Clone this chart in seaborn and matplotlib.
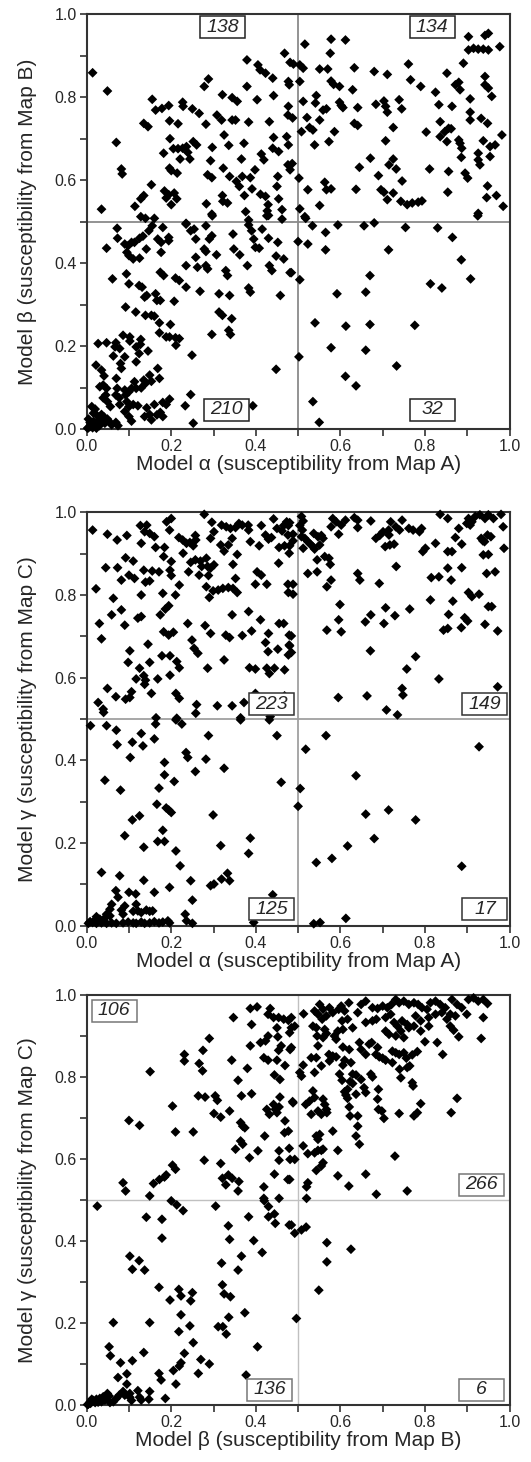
import numpy as np
import pandas as pd
import seaborn as sns
import matplotlib
matplotlib.use("Agg")
import matplotlib.pyplot as plt
from matplotlib.patches import Rectangle
from matplotlib.ticker import MultipleLocator

# ---------------- data ----------------
# Panel 1: Model alpha (x) vs Model beta (y)
ab_ul = [(0.014,0.859),(0.049,0.815),(0.070,0.691),(0.082,0.627),(0.084,0.615),(0.035,0.530),(0.114,0.537),
 (0.128,0.555),(0.135,0.563),(0.128,0.512),(0.139,0.508),(0.153,0.589),(0.135,0.737),(0.145,0.729),(0.155,0.795),
 (0.163,0.769),(0.178,0.773),(0.194,0.780),(0.196,0.743),(0.182,0.665),(0.197,0.700),(0.196,0.629),(0.200,0.623),
 (0.214,0.617),(0.205,0.676),(0.216,0.676),(0.227,0.788),(0.228,0.778),(0.216,0.736),(0.227,0.677),(0.236,0.681),
 (0.221,0.651),(0.184,0.574),(0.194,0.565),(0.188,0.557),(0.207,0.569),(0.213,0.555),(0.200,0.541),(0.250,0.772),
 (0.266,0.761),(0.252,0.693),(0.260,0.685),(0.244,0.651),(0.239,0.667),(0.282,0.735),(0.278,0.826),(0.288,0.844),
 (0.297,0.679),(0.293,0.647),(0.286,0.613),(0.296,0.606),(0.283,0.543),(0.296,0.518),(0.308,0.757),(0.319,0.745),
 (0.321,0.806),(0.325,0.709),(0.336,0.684),(0.323,0.629),(0.338,0.609),(0.321,0.563),(0.322,0.549),(0.333,0.545),
 (0.344,0.799),(0.356,0.790),(0.344,0.745),(0.352,0.745),(0.354,0.597),(0.361,0.585),(0.368,0.609),(0.372,0.689),
 (0.366,0.651),(0.373,0.563),(0.376,0.524),(0.379,0.890),(0.379,0.826),(0.383,0.740),(0.387,0.606),(0.391,0.579),
 (0.398,0.625),(0.403,0.794),(0.405,0.878),(0.410,0.866),(0.423,0.858),(0.411,0.566),(0.423,0.561),(0.429,0.541),
 (0.427,0.526),(0.430,0.515),(0.440,0.846),(0.442,0.804),(0.432,0.741),(0.442,0.703),(0.440,0.677),(0.454,0.669),
 (0.413,0.663),(0.419,0.649),(0.452,0.609),(0.450,0.585),(0.454,0.555),(0.462,0.529),(0.468,0.906),(0.477,0.838),
 (0.479,0.830),(0.477,0.778),(0.476,0.757),(0.481,0.884),(0.473,0.705),(0.477,0.685),(0.476,0.637),(0.481,0.625),
 (0.160,0.508),(0.383,0.504),(0.486,0.640),(0.487,0.750),(0.489,0.880),(0.297,0.514),(0.426,0.514),(0.462,0.506)]
ab_ur = [(0.516,0.928),(0.578,0.940),(0.612,0.938),(0.576,0.906),(0.504,0.878),(0.512,0.870),(0.551,0.868),
 (0.570,0.868),(0.633,0.871),(0.680,0.862),(0.711,0.855),(0.761,0.880),(0.903,0.946),(0.942,0.949),(0.950,0.954),
 (0.903,0.914),(0.915,0.918),(0.926,0.916),(0.938,0.916),(0.950,0.914),(0.977,0.922),(0.891,0.882),(0.852,0.858),
 (0.942,0.850),(0.504,0.838),(0.578,0.839),(0.584,0.831),(0.598,0.826),(0.629,0.818),(0.766,0.842),(0.790,0.826),
 (0.825,0.812),(0.872,0.830),(0.880,0.836),(0.883,0.818),(0.942,0.830),(0.950,0.822),(0.958,0.802),(0.907,0.796),
 (0.543,0.804),(0.541,0.786),(0.512,0.790),(0.598,0.788),(0.602,0.780),(0.606,0.775),(0.641,0.775),(0.684,0.783),
 (0.703,0.791),(0.707,0.778),(0.711,0.764),(0.739,0.794),(0.745,0.772),(0.833,0.782),(0.864,0.778),(0.907,0.764),
 (0.907,0.745),(0.933,0.749),(0.948,0.737),(0.521,0.751),(0.535,0.721),(0.551,0.745),(0.559,0.769),(0.567,0.772),
 (0.508,0.717),(0.527,0.727),(0.539,0.685),(0.573,0.693),(0.586,0.717),(0.633,0.737),(0.641,0.732),(0.725,0.727),
 (0.707,0.695),(0.803,0.716),(0.836,0.741),(0.856,0.725),(0.862,0.724),(0.847,0.717),(0.836,0.705),(0.852,0.693),
 (0.880,0.697),(0.883,0.689),(0.887,0.677),(0.938,0.695),(0.954,0.681),(0.966,0.685),(0.982,0.709),(0.926,0.665),
 (0.926,0.649),(0.954,0.657),(0.886,0.655),(0.671,0.653),(0.645,0.631),(0.715,0.637),(0.725,0.651),(0.732,0.627),
 (0.811,0.627),(0.856,0.621),(0.895,0.617),(0.901,0.605),(0.930,0.637),(0.690,0.611),(0.502,0.605),(0.746,0.598),
 (0.948,0.586),(0.523,0.577),(0.563,0.595),(0.567,0.577),(0.578,0.579),(0.637,0.578),(0.696,0.577),(0.703,0.571),
 (0.711,0.553),(0.725,0.569),(0.854,0.571),(0.946,0.558),(0.969,0.563),(0.985,0.537),(0.743,0.549),(0.758,0.541),
 (0.770,0.545),(0.784,0.547),(0.793,0.550),(0.551,0.539),(0.504,0.531),(0.926,0.520),(0.516,0.512),(0.925,0.514),
 (0.518,0.508)]
ab_lr = [(0.534,0.490),(0.565,0.474),(0.594,0.492),(0.656,0.490),(0.680,0.497),(0.754,0.486),(0.830,0.485),
 (0.500,0.452),(0.523,0.446),(0.565,0.432),(0.714,0.432),(0.865,0.462),(0.886,0.408),(0.504,0.360),(0.670,0.370),
 (0.908,0.362),(0.813,0.350),(0.840,0.340),(0.592,0.326),(0.660,0.330),(0.540,0.256),(0.613,0.248),(0.670,0.252),
 (0.776,0.250),(0.578,0.196),(0.660,0.190),(0.502,0.174),(0.733,0.152),(0.612,0.127),(0.637,0.104),(0.535,0.066),
 (0.550,0.016)]
ab_ll = [(0.072,0.484),(0.073,0.460),(0.047,0.436),(0.090,0.446),(0.098,0.442),(0.106,0.450),(0.113,0.450),
 (0.095,0.426),(0.100,0.418),(0.110,0.410),(0.125,0.412),(0.125,0.460),(0.133,0.465),(0.141,0.434),(0.147,0.478),
 (0.155,0.490),(0.168,0.458),(0.176,0.450),(0.180,0.486),(0.194,0.462),(0.194,0.454),(0.176,0.426),(0.235,0.494),
 (0.246,0.478),(0.254,0.482),(0.258,0.458),(0.282,0.490),(0.290,0.458),(0.296,0.466),(0.278,0.434),(0.282,0.428),
 (0.235,0.394),(0.258,0.414),(0.262,0.390),(0.282,0.394),(0.286,0.386),(0.061,0.362),(0.094,0.374),(0.100,0.350),
 (0.092,0.294),(0.124,0.346),(0.131,0.342),(0.142,0.322),(0.137,0.318),(0.116,0.282),(0.139,0.274),(0.160,0.272),
 (0.163,0.326),(0.166,0.310),(0.174,0.310),(0.174,0.378),(0.182,0.370),(0.210,0.364),(0.219,0.358),(0.235,0.342),
 (0.207,0.308),(0.268,0.332),(0.307,0.420),(0.313,0.326),(0.313,0.282),(0.321,0.274),(0.338,0.322),(0.343,0.266),
 (0.336,0.238),(0.340,0.228),(0.346,0.470),(0.348,0.434),(0.362,0.420),(0.329,0.382),(0.333,0.370),(0.380,0.394),
 (0.383,0.340),(0.387,0.330),(0.296,0.228),(0.383,0.492),(0.390,0.478),(0.395,0.458),(0.408,0.436),(0.415,0.482),
 (0.399,0.438),(0.430,0.460),(0.432,0.394),(0.438,0.382),(0.448,0.417),(0.452,0.450),(0.458,0.322),(0.466,0.410),
 (0.481,0.377),(0.448,0.144),(0.393,0.056),(0.249,0.178),(0.246,0.083),(0.252,0.014),(0.233,0.056),(0.198,0.252),
 (0.188,0.222),(0.196,0.222),(0.210,0.220),(0.219,0.218),(0.211,0.202),(0.172,0.232),(0.172,0.256),(0.153,0.274),
 (0.145,0.188),(0.128,0.216),(0.127,0.204),(0.117,0.198),(0.102,0.222),(0.102,0.212),(0.086,0.226),(0.078,0.194),
 (0.090,0.174),(0.080,0.158),(0.082,0.146),(0.069,0.208),(0.047,0.208),(0.027,0.206),(0.022,0.154),(0.035,0.142),
 (0.041,0.128),(0.063,0.176),(0.067,0.198),(0.124,0.182),(0.117,0.162),(0.149,0.130),(0.153,0.115),(0.168,0.146),
 (0.172,0.122),(0.113,0.114),(0.117,0.098),(0.135,0.118),(0.129,0.099),(0.139,0.110),(0.106,0.098),(0.100,0.090),
 (0.090,0.094),(0.092,0.082),(0.070,0.122),(0.072,0.098),(0.031,0.102),(0.039,0.106),(0.047,0.098),(0.045,0.082),
 (0.039,0.075),(0.049,0.066),(0.056,0.054),(0.069,0.082),(0.077,0.075),(0.078,0.059),(0.095,0.066),(0.100,0.054),
 (0.110,0.059),(0.090,0.042),(0.100,0.030),(0.106,0.019),(0.121,0.056),(0.142,0.051),(0.149,0.035),(0.153,0.022),
 (0.137,0.030),(0.160,0.059),(0.166,0.034),(0.180,0.064),(0.188,0.059),(0.196,0.072),(0.174,0.040),(0.180,0.030),
 (0.012,0.054),(0.020,0.048),(0.016,0.038),(0.025,0.032),(0.035,0.035),(0.031,0.024),(0.041,0.029),(0.049,0.024),
 (0.043,0.014),(0.004,0.024),(0.008,0.016),(0.012,0.010),(0.016,0.018),(0.020,0.008),(0.025,0.014),(0.030,0.008),
 (0.035,0.016),(0.055,0.016),(0.059,0.010),(0.069,0.016),(0.074,0.008),(0.004,0.003),(0.008,0.006),(0.002,0.002),
 (0.014,0.003),(0.023,0.002),(0.235,0.496),(0.484,0.377)]

# Panel 2: Model alpha (x) vs Model gamma (y)
ag_ul = [(0.014,0.957),(0.022,0.815),(0.030,0.731),(0.035,0.694),(0.049,0.947),(0.045,0.866),(0.059,0.752),
 (0.063,0.792),(0.072,0.933),(0.073,0.866),(0.082,0.836),(0.082,0.764),(0.090,0.727),(0.095,0.944),(0.092,0.890),
 (0.100,0.848),(0.110,0.882),(0.113,0.840),(0.102,0.665),(0.098,0.637),(0.121,0.744),(0.129,0.748),(0.127,0.968),
 (0.142,0.969),(0.137,0.953),(0.149,0.949),(0.160,0.941),(0.129,0.925),(0.135,0.860),(0.139,0.831),(0.149,0.834),
 (0.155,0.858),(0.129,0.800),(0.145,0.681),(0.125,0.623),(0.117,0.597),(0.135,0.605),(0.139,0.594),(0.137,0.584),
 (0.149,0.637),(0.153,0.562),(0.171,0.856),(0.168,0.597),(0.163,0.915),(0.180,0.804),(0.178,0.653),(0.184,0.915),
 (0.182,0.893),(0.174,0.752),(0.186,0.766),(0.194,0.774),(0.182,0.711),(0.194,0.703),(0.205,0.710),(0.197,0.653),
 (0.197,0.606),(0.189,0.977),(0.200,0.985),(0.196,0.957),(0.200,0.881),(0.197,0.860),(0.200,0.847),(0.210,0.800),
 (0.213,0.639),(0.219,0.624),(0.211,0.562),(0.219,0.550),(0.219,0.824),(0.218,0.939),(0.227,0.933),(0.236,0.925),
 (0.244,0.927),(0.228,0.901),(0.239,0.731),(0.249,0.691),(0.254,0.671),(0.263,0.659),(0.252,0.919),(0.258,0.933),
 (0.246,0.879),(0.257,0.885),(0.257,0.944),(0.241,0.856),(0.266,0.848),(0.260,0.535),(0.269,0.882),(0.272,0.869),
 (0.278,0.995),(0.283,0.889),(0.286,0.869),(0.293,0.865),(0.301,0.873),(0.283,0.820),(0.288,0.847),(0.296,0.976),
 (0.301,0.953),(0.293,0.937),(0.280,0.726),(0.293,0.707),(0.286,0.623),(0.290,0.794),(0.299,0.810),(0.311,0.812),
 (0.322,0.816),(0.335,0.818),(0.346,0.816),(0.356,0.806),(0.309,0.532),(0.319,0.969),(0.330,0.965),(0.340,0.961),
 (0.352,0.963),(0.360,0.973),(0.368,0.969),(0.317,0.921),(0.325,0.906),(0.335,0.921),(0.344,0.937),(0.325,0.643),
 (0.329,0.703),(0.338,0.697),(0.344,0.752),(0.346,0.874),(0.352,0.840),(0.344,0.532),(0.356,0.898),(0.368,0.702),
 (0.372,0.540),(0.382,0.969),(0.383,0.957),(0.383,0.760),(0.390,0.713),(0.385,0.624),(0.387,0.929),(0.399,0.826),
 (0.403,0.856),(0.413,0.848),(0.399,0.621),(0.408,0.919),(0.411,0.740),(0.413,0.968),(0.423,0.945),(0.430,0.935),
 (0.437,0.939),(0.426,0.826),(0.423,0.685),(0.430,0.707),(0.429,0.663),(0.432,0.610),(0.426,0.623),(0.442,0.984),
 (0.450,0.961),(0.462,0.955),(0.466,0.968),(0.444,0.623),(0.454,0.877),(0.455,0.915),(0.468,0.919),(0.452,0.669),
 (0.455,0.731),(0.466,0.731),(0.468,0.619),(0.473,0.977),(0.477,0.968),(0.476,0.945),(0.479,0.901),(0.476,0.826),
 (0.477,0.806),(0.479,0.703),(0.479,0.679),(0.477,0.655),(0.399,0.562),(0.468,0.556),(0.027,0.540),(0.039,0.524),
 (0.049,0.574),(0.069,0.554),(0.092,0.548),(0.102,0.552),(0.106,0.566),(0.164,0.503),(0.213,0.502),(0.258,0.514),
 (0.364,0.503),(0.434,0.506),(0.480,0.975),(0.488,0.947),(0.488,0.931),(0.480,0.919),(0.488,0.826),(0.488,0.802),
 (0.484,0.701),(0.480,0.677),(0.484,0.661),(0.040,0.516)]
ag_ur = [(0.508,0.990),(0.512,0.979),(0.504,0.968),(0.510,0.957),(0.508,0.941),(0.516,0.937),(0.523,0.929),
 (0.529,0.923),(0.535,0.917),(0.539,0.911),(0.512,0.913),(0.537,0.949),(0.547,0.941),(0.555,0.944),(0.559,0.937),
 (0.551,0.921),(0.563,0.893),(0.573,0.889),(0.576,0.874),(0.545,0.885),(0.523,0.852),(0.545,0.856),(0.578,0.836),
 (0.568,0.820),(0.582,0.985),(0.590,0.977),(0.602,0.969),(0.612,0.981),(0.633,0.987),(0.641,0.981),(0.578,0.965),
 (0.596,0.947),(0.641,0.963),(0.672,0.979),(0.641,0.852),(0.646,0.836),(0.692,0.828),(0.684,0.937),(0.693,0.944),
 (0.701,0.953),(0.714,0.957),(0.715,0.945),(0.719,0.977),(0.731,0.965),(0.740,0.957),(0.746,0.981),(0.706,0.917),
 (0.717,0.921),(0.727,0.923),(0.732,0.869),(0.762,0.961),(0.772,0.957),(0.792,0.961),(0.787,0.953),(0.795,0.905),
 (0.801,0.913),(0.825,0.925),(0.836,0.995),(0.854,0.985),(0.854,0.905),(0.864,0.905),(0.872,0.939),(0.880,0.961),
 (0.887,0.923),(0.903,0.985),(0.911,0.977),(0.919,0.990),(0.930,0.994),(0.942,0.985),(0.950,0.994),(0.962,0.985),
 (0.980,0.995),(0.907,0.969),(0.899,0.973),(0.933,0.937),(0.941,0.929),(0.948,0.945),(0.956,0.941),(0.937,0.931),
 (0.985,0.965),(0.987,0.913),(0.938,0.897),(0.950,0.898),(0.854,0.865),(0.887,0.866),(0.946,0.852),(0.966,0.856),
 (0.815,0.842),(0.833,0.844),(0.862,0.836),(0.903,0.806),(0.911,0.796),(0.928,0.802),(0.813,0.788),(0.866,0.785),
 (0.950,0.772),(0.958,0.772),(0.599,0.777),(0.707,0.769),(0.764,0.766),(0.856,0.753),(0.894,0.745),(0.901,0.737),
 (0.596,0.740),(0.602,0.711),(0.568,0.715),(0.659,0.735),(0.672,0.752),(0.703,0.731),(0.729,0.750),(0.844,0.715),
 (0.854,0.719),(0.886,0.721),(0.942,0.729),(0.972,0.713),(0.671,0.665),(0.778,0.651),(0.757,0.621),(0.833,0.597),
 (0.746,0.574),(0.748,0.558),(0.595,0.552),(0.663,0.556),(0.709,0.522),(0.735,0.510),(0.972,0.578)]
ag_ll = [(0.009,0.484),(0.047,0.484),(0.070,0.473),(0.072,0.438),(0.108,0.444),(0.129,0.465),(0.133,0.435),
 (0.160,0.452),(0.163,0.488),(0.211,0.498),(0.225,0.488),(0.288,0.460),(0.364,0.498),(0.432,0.498),(0.450,0.460),
 (0.235,0.419),(0.239,0.407),(0.282,0.403),(0.257,0.373),(0.325,0.381),(0.103,0.407),(0.043,0.352),(0.080,0.328),
 (0.184,0.395),(0.184,0.365),(0.171,0.333),(0.207,0.349),(0.166,0.294),(0.188,0.285),(0.194,0.280),(0.200,0.274),
 (0.125,0.266),(0.108,0.256),(0.299,0.268),(0.460,0.347),(0.090,0.218),(0.180,0.231),(0.168,0.204),(0.184,0.204),
 (0.135,0.190),(0.211,0.181),(0.221,0.145),(0.317,0.194),(0.387,0.212),(0.383,0.175),(0.035,0.129),(0.078,0.121),
 (0.135,0.110),(0.196,0.093),(0.246,0.109),(0.250,0.062),(0.293,0.097),(0.301,0.101),(0.319,0.113),(0.333,0.127),
 (0.338,0.109),(0.440,0.075),(0.069,0.085),(0.074,0.069),(0.100,0.081),(0.116,0.077),(0.059,0.052),(0.055,0.040),
 (0.090,0.048),(0.082,0.038),(0.086,0.028),(0.117,0.052),(0.110,0.035),(0.121,0.036),(0.129,0.032),(0.141,0.038),
 (0.149,0.035),(0.156,0.036),(0.160,0.081),(0.047,0.028),(0.055,0.024),(0.043,0.019),(0.023,0.022),(0.020,0.014),
 (0.031,0.016),(0.039,0.012),(0.008,0.010),(0.014,0.008),(0.004,0.006),(0.023,0.006),(0.035,0.007),(0.047,0.006),
 (0.059,0.007),(0.070,0.006),(0.086,0.007),(0.098,0.009),(0.110,0.007),(0.117,0.006),(0.129,0.009),(0.137,0.006),
 (0.149,0.007),(0.160,0.010),(0.171,0.007),(0.180,0.009),(0.192,0.012),(0.196,0.007),(0.233,0.028),(0.236,0.012),
 (0.250,0.006),(0.395,0.008)]
ag_lr = [(0.518,0.427),(0.566,0.460),(0.637,0.363),(0.505,0.332),(0.500,0.289),(0.660,0.270),(0.714,0.280),
 (0.778,0.256),(0.680,0.211),(0.617,0.193),(0.543,0.153),(0.580,0.163),(0.887,0.144),(0.928,0.433),(0.537,0.005),
 (0.552,0.008),(0.613,0.018)]

# Panel 3: Model beta (x) vs Model gamma (y)
bg_ul = [(0.086,0.542),(0.092,0.522),(0.100,0.694),(0.125,0.682),(0.149,0.510),(0.150,0.813),(0.158,0.540),
 (0.172,0.550),(0.184,0.556),(0.188,0.561),(0.203,0.729),(0.210,0.666),(0.203,0.585),(0.210,0.575),(0.231,0.855),
 (0.231,0.839),(0.252,0.666),(0.266,0.833),(0.274,0.815),(0.264,0.754),(0.280,0.751),(0.275,0.865),(0.278,0.597),
 (0.290,0.894),(0.304,0.754),(0.309,0.743),(0.301,0.711),(0.317,0.702),(0.317,0.589),(0.321,0.553),(0.329,0.537),
 (0.335,0.561),(0.344,0.553),(0.360,0.545),(0.358,0.522),(0.338,0.717),(0.343,0.841),(0.347,0.945),(0.358,0.792),
 (0.366,0.754),(0.364,0.689),(0.369,0.680),(0.374,0.676),(0.364,0.644),(0.369,0.636),(0.352,0.624),(0.380,0.821),
 (0.387,0.967),(0.403,0.971),(0.390,0.928),(0.387,0.876),(0.390,0.759),(0.385,0.603),(0.405,0.620),(0.411,0.884),
 (0.423,0.888),(0.429,0.900),(0.419,0.847),(0.429,0.841),(0.421,0.656),(0.419,0.532),(0.426,0.721),(0.432,0.709),
 (0.442,0.733),(0.446,0.721),(0.450,0.713),(0.455,0.727),(0.434,0.967),(0.429,0.953),(0.442,0.945),(0.454,0.945),
 (0.466,0.941),(0.477,0.938),(0.444,0.805),(0.450,0.920),(0.452,0.898),(0.454,0.865),(0.460,0.876),(0.450,0.841),
 (0.455,0.620),(0.455,0.597),(0.444,0.563),(0.455,0.504),(0.457,0.794),(0.457,0.751),(0.469,0.693),(0.469,0.828),
 (0.468,0.664),(0.477,0.668),(0.479,0.626),(0.481,0.599),(0.476,0.550),(0.481,0.867),(0.484,0.920),(0.487,0.740),
 (0.419,0.504),(0.484,0.945),(0.492,0.924),(0.480,0.908),(0.484,0.872),(0.488,0.737),(0.492,0.599),(0.480,0.550)]
bg_ur = [(0.513,0.954),(0.551,0.977),(0.539,0.961),(0.547,0.953),(0.559,0.965),(0.567,0.949),(0.574,0.969),
 (0.582,0.957),(0.596,0.965),(0.602,0.973),(0.610,0.961),(0.620,0.981),(0.535,0.924),(0.543,0.920),(0.557,0.941),
 (0.563,0.916),(0.545,0.900),(0.559,0.896),(0.567,0.906),(0.586,0.900),(0.590,0.892),(0.594,0.912),(0.606,0.916),
 (0.629,0.920),(0.604,0.937),(0.617,0.941),(0.641,0.957),(0.649,0.977),(0.660,0.985),(0.676,0.969),(0.688,0.967),
 (0.700,0.973),(0.711,0.969),(0.721,0.977),(0.731,0.989),(0.739,0.981),(0.750,0.985),(0.762,0.977),(0.774,0.981),
 (0.784,0.977),(0.793,0.969),(0.805,0.965),(0.813,0.981),(0.825,0.985),(0.836,0.977),(0.848,0.969),(0.864,0.989),
 (0.876,0.977),(0.887,0.969),(0.903,0.989),(0.915,0.993),(0.926,0.985),(0.938,0.989),(0.948,0.979),(0.660,0.933),
 (0.676,0.937),(0.685,0.941),(0.707,0.945),(0.719,0.953),(0.727,0.933),(0.735,0.924),(0.746,0.937),(0.758,0.928),
 (0.778,0.949),(0.790,0.937),(0.809,0.945),(0.825,0.953),(0.840,0.957),(0.852,0.941),(0.860,0.953),(0.872,0.949),
 (0.899,0.953),(0.938,0.945),(0.707,0.912),(0.715,0.904),(0.731,0.900),(0.743,0.912),(0.750,0.896),(0.762,0.920),
 (0.774,0.924),(0.790,0.912),(0.809,0.924),(0.860,0.924),(0.868,0.914),(0.880,0.898),(0.933,0.894),(0.547,0.876),
 (0.543,0.847),(0.531,0.847),(0.512,0.829),(0.504,0.811),(0.508,0.802),(0.539,0.811),(0.555,0.827),(0.573,0.855),
 (0.574,0.839),(0.582,0.851),(0.590,0.849),(0.606,0.873),(0.621,0.867),(0.606,0.829),(0.610,0.841),(0.625,0.835),
 (0.629,0.807),(0.637,0.805),(0.649,0.794),(0.645,0.884),(0.649,0.867),(0.660,0.855),(0.668,0.880),(0.674,0.884),
 (0.688,0.872),(0.684,0.855),(0.692,0.849),(0.700,0.846),(0.707,0.841),(0.723,0.863),(0.731,0.859),(0.739,0.855),
 (0.750,0.859),(0.756,0.846),(0.764,0.827),(0.770,0.854),(0.782,0.862),(0.800,0.886),(0.829,0.884),(0.842,0.855),
 (0.598,0.807),(0.604,0.792),(0.623,0.789),(0.629,0.784),(0.617,0.770),(0.610,0.764),(0.613,0.756),(0.617,0.748),
 (0.637,0.758),(0.656,0.774),(0.660,0.762),(0.672,0.807),(0.676,0.800),(0.690,0.770),(0.688,0.746),(0.690,0.721),
 (0.698,0.717),(0.703,0.699),(0.723,0.835),(0.740,0.819),(0.743,0.798),(0.758,0.823),(0.770,0.786),(0.772,0.778),
 (0.518,0.733),(0.527,0.741),(0.535,0.766),(0.539,0.750),(0.547,0.717),(0.559,0.746),(0.563,0.733),(0.567,0.721),
 (0.568,0.713),(0.555,0.709),(0.531,0.709),(0.582,0.668),(0.547,0.648),(0.543,0.656),(0.551,0.660),(0.621,0.727),
 (0.623,0.705),(0.641,0.705),(0.641,0.680),(0.637,0.656),(0.645,0.636),(0.594,0.621),(0.559,0.624),(0.555,0.621),
 (0.547,0.621),(0.539,0.615),(0.523,0.613),(0.512,0.632),(0.559,0.591),(0.555,0.583),(0.543,0.572),(0.594,0.559),
 (0.620,0.534),(0.660,0.563),(0.523,0.542),(0.520,0.532),(0.520,0.504),(0.729,0.607),(0.685,0.514),(0.758,0.522),
 (0.739,0.711),(0.774,0.705),(0.782,0.713),(0.790,0.735),(0.862,0.713),(0.876,0.748)]
bg_ll = [(0.025,0.485),(0.141,0.458),(0.178,0.453),(0.178,0.407),(0.200,0.498),(0.213,0.488),(0.228,0.474),
 (0.305,0.485),(0.102,0.363),(0.108,0.331),(0.124,0.352),(0.137,0.329),(0.171,0.287),(0.197,0.256),(0.218,0.282),
 (0.223,0.266),(0.250,0.274),(0.246,0.254),(0.223,0.220),(0.218,0.179),(0.244,0.193),(0.252,0.152),(0.231,0.126),
 (0.223,0.103),(0.219,0.095),(0.205,0.084),(0.211,0.051),(0.149,0.201),(0.063,0.201),(0.053,0.142),(0.056,0.120),
 (0.080,0.103),(0.108,0.108),(0.135,0.128),(0.171,0.077),(0.176,0.061),(0.186,0.016),(0.270,0.111),(0.290,0.100),
 (0.264,0.077),(0.074,0.067),(0.095,0.076),(0.095,0.051),(0.121,0.035),(0.149,0.033),(0.147,0.014),(0.125,0.019),
 (0.129,0.012),(0.102,0.028),(0.102,0.019),(0.106,0.011),(0.086,0.033),(0.090,0.024),(0.077,0.024),(0.070,0.016),
 (0.049,0.028),(0.053,0.022),(0.039,0.020),(0.031,0.016),(0.023,0.014),(0.016,0.011),(0.008,0.007),(0.012,0.014),
 (0.027,0.007),(0.035,0.008),(0.043,0.012),(0.055,0.006),(0.063,0.008),(0.004,0.002),(0.009,0.004),(0.020,0.006),
 (0.002,0.001),(0.319,0.346),(0.321,0.293),(0.325,0.271),(0.340,0.264),(0.335,0.437),(0.338,0.404),(0.358,0.329),
 (0.366,0.363),(0.336,0.214),(0.311,0.191),(0.322,0.191),(0.330,0.173),(0.374,0.225),(0.383,0.459),(0.395,0.401),
 (0.415,0.372),(0.404,0.142),(0.377,0.073),(0.430,0.484),(0.430,0.459),(0.444,0.466),(0.446,0.443),(0.479,0.439),
 (0.484,0.439),(0.492,0.419),(0.496,0.211),(0.420,0.498)]
bg_lr = [(0.508,0.427),(0.519,0.434),(0.568,0.396),(0.625,0.380),(0.568,0.349),(0.549,0.280)]

tick_values = [0.0, 0.2, 0.4, 0.6, 0.8, 1.0]
tick_labels = ["0.0", "0.2", "0.4", "0.6", "0.8", "1.0"]

panel_xlabels = ["Model \u03b1 (susceptibility from Map A)",
                 "Model \u03b1 (susceptibility from Map A)",
                 "Model \u03b2 (susceptibility from Map B)"]
panel_ylabels = ["Model \u03b2 (susceptibility from Map B)",
                 "Model \u03b3 (susceptibility from Map C)",
                 "Model \u03b3 (susceptibility from Map C)"]
panel_counts = [["138", "134", "210", "32"],
                ["223", "149", "125", "17"],
                ["106", "266", "136", "6"]]

# ---------------- style ----------------
sns.set_style("ticks")
plt.rcParams['font.family'] = ['Liberation Sans', 'DejaVu Sans']

fig = plt.figure(figsize=(5.31, 14.62), dpi=100)
W, H = 531.0, 1462.0
# axes boxes in pixels: (left, top, right, bottom)
boxes_px = [(86.7, 14.3, 509.5, 429.0), (86.7, 512.3, 509.5, 925.8), (86.7, 995.0, 509.5, 1405.0)]
# count-box centres (axes fraction), order UL, UR, LL, LR
count_pos = [[(0.322, 0.969), (0.817, 0.969), (0.330, 0.046), (0.818, 0.046)],
             [(0.438, 0.536), (0.942, 0.536), (0.438, 0.040), (0.942, 0.040)],
             [(0.065, 0.961), (0.934, 0.537), (0.433, 0.037), (0.934, 0.037)]]
line_styles = [dict(color="#8a8a8a", lw=1.3), dict(color="#a0a0a0", lw=1.3), dict(color="#c0c0c0", lw=1.0)]
box_edges = ["#222222", "#333333", "#777777"]

panels = [ab_ul + ab_ur + ab_ll + ab_lr, ag_ul + ag_ur + ag_ll + ag_lr, bg_ul + bg_ur + bg_ll + bg_lr]

for i in range(3):
    l, t, r, b = boxes_px[i]
    ax = fig.add_axes([l / W, 1 - b / H, (r - l) / W, (b - t) / H])
    pts = np.array(panels[i])
    df = pd.DataFrame({"x": pts[:, 0], "y": pts[:, 1]})
    ax.axvline(0.5, zorder=1, **line_styles[i])
    ax.axhline(0.5, zorder=1, **line_styles[i])
    sns.scatterplot(data=df, x="x", y="y", ax=ax, marker="D", s=25, color="black",
                    edgecolor="none", linewidth=0, legend=False, zorder=3, clip_on=False)
    ax.set_xlim(0, 1)
    ax.set_ylim(0, 1)
    ax.set_xticks(tick_values)
    ax.set_xticklabels(tick_labels)
    ax.set_yticks(tick_values)
    ax.set_yticklabels(tick_labels)
    ax.xaxis.set_minor_locator(MultipleLocator(0.1))
    ax.yaxis.set_minor_locator(MultipleLocator(0.1))
    ax.tick_params(which="both", direction="out", length=5, width=1.1, color="#222222",
                   labelsize=11.5, pad=2)
    for sp in ax.spines.values():
        sp.set_linewidth(1.5)
        sp.set_color("#333333")
        sp.set_visible(True)
    ax.set_xlabel(panel_xlabels[i], fontsize=15, labelpad=1)
    ax.set_ylabel(panel_ylabels[i], fontsize=15, labelpad=13)
    bw, bh = 45.0 / (r - l), 22.0 / (b - t)
    for (cx, cy), txt in zip(count_pos[i], panel_counts[i]):
        ax.add_patch(Rectangle((cx - bw / 2, cy - bh / 2), bw, bh, transform=ax.transAxes,
                               facecolor="white", edgecolor=box_edges[i], lw=1.1, zorder=5,
                               clip_on=False))
        ax.text(cx, cy, txt, transform=ax.transAxes, ha="center", va="center",
                fontsize=14, style="italic", zorder=6)

fig.savefig("out.png", dpi=100)
